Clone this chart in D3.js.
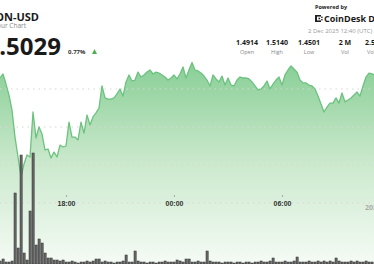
<!DOCTYPE html>
<html>
<head>
<meta charset="utf-8">
<script src="https://cdn.jsdelivr.net/npm/d3@7"></script>
<style>
  body { margin: 0; background: #fff; }
  svg { display: block; font-family: "Open Sans", "Noto Sans", sans-serif; }
</style>
</head>
<body>
<svg id="chart" width="374" height="264"></svg>
<script>
// 10-minute samples starting 1 Dec 2025 14:20
const startTime = new Date(2025, 11, 1, 14, 20);
const stepMinutes = 10;

const prices = [
  1.5058, 1.5079, 1.5026, 1.4968, 1.4889, 1.4747, 1.4642, 1.4537, 1.4605, 1.4653,
  1.4642, 1.4879, 1.4742, 1.4800, 1.4763, 1.4679, 1.4684, 1.4637, 1.4668, 1.4642,
  1.4705, 1.4695, 1.4700, 1.4826, 1.4747, 1.4747, 1.4732, 1.4826, 1.4768, 1.4863,
  1.4811, 1.4853, 1.4874, 1.4900, 1.5016, 1.4953, 1.4947, 1.4947, 1.4953, 1.4974,
  1.5000, 1.4963, 1.5037, 1.5074, 1.5042, 1.5047, 1.5089, 1.5063, 1.5074, 1.5089,
  1.5100, 1.5079, 1.5089, 1.5084, 1.5074, 1.5063, 1.5047, 1.5058, 1.5074, 1.5053,
  1.5079, 1.5116, 1.5058, 1.5100, 1.5140, 1.5100, 1.5095, 1.5084, 1.5068, 1.5047,
  1.5016, 1.5074, 1.5053, 1.5037, 1.5068, 1.5021, 1.5058, 1.5021, 1.5016, 1.5047,
  1.5063, 1.5058, 1.5058, 1.5053, 1.5037, 1.5016, 1.4995, 1.5000, 1.5016, 1.5042,
  1.5000, 1.5026, 1.5047, 1.5063, 1.5021, 1.5074, 1.5100, 1.5121, 1.5105, 1.5089,
  1.5047, 1.5032, 1.5032, 1.5021, 1.5016, 1.5000, 1.4963, 1.4921, 1.4879, 1.4905,
  1.4926, 1.4926, 1.4953, 1.4926, 1.4979, 1.4932, 1.4942, 1.4953, 1.4968, 1.4984,
  1.4963, 1.5016, 1.5063, 1.5084, 1.5079, 1.5074
];

// volume in thousands
const volumes = [
  12, 20, 8, 8, 12, 284, 64, 436, 44, 16,
  212, 444, 76, 100, 84, 44, 24, 24, 16, 16,
  12, 16, 8, 8, 12, 8, 4, 8, 8, 12,
  8, 12, 20, 20, 8, 12, 8, 8, 4, 8,
  8, 12, 36, 8, 8, 52, 12, 8, 8, 4,
  8, 8, 4, 8, 8, 12, 8, 8, 8, 16,
  12, 8, 20, 20, 8, 8, 12, 8, 8, 52,
  12, 8, 8, 8, 4, 8, 8, 8, 4, 8,
  8, 4, 8, 8, 4, 8, 8, 12, 8, 8,
  12, 24, 8, 8, 8, 12, 8, 8, 12, 28,
  8, 8, 8, 12, 8, 8, 12, 8, 12, 8,
  12, 8, 24, 12, 8, 8, 8, 12, 8, 12,
  8, 8, 12, 8, 8
];

const gridPrices = [1.44, 1.46, 1.48, 1.50];

const statValues = ["1.4914", "1.5140", "1.4501", "2 M"];
const statLabels = ["Open", "High", "Low", "Vol"];

const data = prices.map((p, i) => ({
  time: d3.timeMinute.offset(startTime, i * stepMinutes),
  price: p,
  volume: volumes[i] || 0
}));

const svg = d3.select("#chart");

// scales
const x = d3.scaleTime()
  .domain([new Date(2025, 11, 1, 18, 0), new Date(2025, 11, 2, 6, 0)])
  .range([66, 282]);
const y = d3.scaleLinear().domain([1.44, 1.50]).range([203, 89]);
const yVol = d3.scaleLinear().domain([0, 444]).range([264, 153]);

// gradient for the area
const defs = svg.append("defs");
const grad = defs.append("linearGradient")
  .attr("id", "areaGrad")
  .attr("gradientUnits", "userSpaceOnUse")
  .attr("x1", 0).attr("y1", 62).attr("x2", 0).attr("y2", 264);
grad.append("stop").attr("offset", "0%").attr("stop-color", "#88ce95");
grad.append("stop").attr("offset", "50%").attr("stop-color", "#cbe9cd");
grad.append("stop").attr("offset", "100%").attr("stop-color", "#f5fbf5");

const area = d3.area()
  .x(d => x(d.time))
  .y0(264)
  .y1(d => y(d.price));

const line = d3.line()
  .x(d => x(d.time))
  .y(d => y(d.price));

svg.append("path")
  .datum(data)
  .attr("d", area)
  .attr("fill", "url(#areaGrad)");

// dotted grid
svg.append("g")
  .selectAll("line")
  .data(gridPrices)
  .enter()
  .append("line")
  .attr("x1", 0)
  .attr("x2", 374)
  .attr("y1", d => y(d))
  .attr("y2", d => y(d))
  .attr("stroke", "#d6d6d6")
  .attr("stroke-width", 1)
  .attr("stroke-dasharray", "1.5,4");

svg.append("path")
  .datum(data)
  .attr("d", line)
  .attr("fill", "none")
  .attr("stroke", "#6cc27f")
  .attr("stroke-width", 1.3)
  .attr("stroke-linejoin", "round");

// volume bars
svg.append("g")
  .selectAll("rect")
  .data(data)
  .enter()
  .append("rect")
  .attr("x", d => x(d.time) - 1)
  .attr("width", 2.2)
  .attr("y", d => yVol(d.volume))
  .attr("height", d => 264 - yVol(d.volume))
  .attr("fill", "#666")
  .attr("stroke", "#333")
  .attr("stroke-width", 0.5);

// x axis
const xAxis = d3.axisBottom(x)
  .ticks(d3.timeHour.every(6))
  .tickFormat(d3.timeFormat("%H:%M"))
  .tickSize(2)
  .tickPadding(4);

const gx = svg.append("g")
  .attr("transform", "translate(0,195)")
  .call(xAxis);
gx.select(".domain").remove();
gx.selectAll(".tick line").attr("stroke", "#aaa");
gx.selectAll(".tick text")
  .attr("fill", "#333")
  .attr("font-size", 7)
  .attr("font-weight", 700);

svg.append("text")
  .attr("x", 365).attr("y", 210)
  .attr("font-size", 7)
  .attr("font-weight", 700)
  .attr("fill", "#aaa")
  .text("2025");

// header left
svg.append("text")
  .attr("x", 39).attr("y", 21)
  .attr("text-anchor", "end")
  .attr("font-size", 11)
  .attr("font-weight", 700)
  .attr("fill", "#1a1a1a")
  .text("TON-USD");

svg.append("text")
  .attr("x", 26).attr("y", 28)
  .attr("text-anchor", "end")
  .attr("font-size", 6.5)
  .attr("fill", "#888")
  .text("24 Hour Chart");

svg.append("text")
  .attr("x", 61).attr("y", 55)
  .attr("text-anchor", "end")
  .attr("font-size", 24)
  .attr("font-weight", 700)
  .attr("fill", "#1a1a1a")
  .text("1.5029");

svg.append("text")
  .attr("x", 68).attr("y", 54)
  .attr("font-size", 6)
  .attr("font-weight", 700)
  .attr("fill", "#333")
  .text("0.77%");

svg.append("path")
  .attr("d", "M92,54 L97,54 L94.5,49 Z")
  .attr("fill", "#4caf50");

// header right
svg.append("text")
  .attr("x", 315).attr("y", 9)
  .attr("font-size", 5.5)
  .attr("font-weight", 700)
  .attr("fill", "#222")
  .text("Powered by");

const logo = svg.append("g").attr("transform", "translate(315,15)");
logo.append("rect").attr("x", 0).attr("y", 0).attr("width", 2).attr("height", 7).attr("fill", "#222");
logo.append("rect").attr("x", 0).attr("y", 0).attr("width", 6).attr("height", 1.6).attr("fill", "#222");
logo.append("rect").attr("x", 0).attr("y", 5.4).attr("width", 6).attr("height", 1.6).attr("fill", "#222");
logo.append("rect").attr("x", 3.5).attr("y", 2.7).attr("width", 1.6).attr("height", 1.6).attr("fill", "#222");
logo.append("rect").attr("x", 6.2).attr("y", 1.6).attr("width", 1.4).attr("height", 1.4).attr("fill", "#222");
logo.append("rect").attr("x", 6.2).attr("y", 4).attr("width", 1.4).attr("height", 1.4).attr("fill", "#222");

svg.append("text")
  .attr("x", 324).attr("y", 22)
  .attr("font-size", 9)
  .attr("font-weight", 700)
  .attr("fill", "#1a1a1a")
  .text("CoinDesk Data");

svg.append("text")
  .attr("x", 308).attr("y", 33)
  .attr("font-size", 6)
  .attr("fill", "#999")
  .text("2 Dec 2025 12:40 (UTC)");

const statX = [247, 277, 309, 345];
statValues.forEach((v, i) => {
  svg.append("text")
    .attr("x", statX[i]).attr("y", 45)
    .attr("text-anchor", "middle")
    .attr("font-size", 7)
    .attr("font-weight", 700)
    .attr("fill", "#1a1a1a")
    .text(v);
  svg.append("text")
    .attr("x", statX[i]).attr("y", 54)
    .attr("text-anchor", "middle")
    .attr("font-size", 5.5)
    .attr("fill", "#888")
    .text(statLabels[i]);
});

svg.append("text")
  .attr("x", 365).attr("y", 45)
  .attr("font-size", 7)
  .attr("font-weight", 700)
  .attr("fill", "#1a1a1a")
  .text("2.5 M");
svg.append("text")
  .attr("x", 367).attr("y", 54)
  .attr("font-size", 5.5)
  .attr("fill", "#888")
  .text("Vol (USD)");
</script>
</body>
</html>
